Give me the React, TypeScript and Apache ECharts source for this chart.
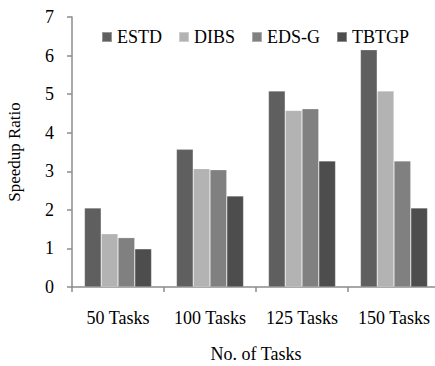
import React, { useEffect, useRef } from "react";
import * as echarts from "echarts";

const categories = ["50 Tasks", "100 Tasks", "125 Tasks", "150 Tasks"];
const seriesNames = ["ESTD", "DIBS", "EDS-G", "TBTGP"];
const estd = [2.05, 3.57, 5.08, 6.15];
const dibs = [1.38, 3.07, 4.58, 5.08];
const edsg = [1.28, 3.04, 4.62, 3.27];
const tbtgp = [0.99, 2.36, 3.27, 2.05];
const colors = ["#5f5f5f", "#b3b3b3", "#808080", "#4d4d4d"];
const yTicks = [0, 7, 1];

export default function App() {
  const ref = useRef<HTMLDivElement>(null);
  useEffect(() => {
    if (!ref.current) return;
    const chart = echarts.init(ref.current, null, { renderer: "svg" });
    const font = "Liberation Serif";
    const data = [estd, dibs, edsg, tbtgp];
    chart.setOption({
      animation: false,
      textStyle: { fontFamily: font },
      legend: {
        top: 23,
        left: 96,
        itemWidth: 10,
        itemHeight: 10,
        itemGap: 16,
        icon: "rect",
        textStyle: { fontFamily: font, fontSize: 18, color: "#000" },
        data: seriesNames,
      },
      grid: { left: 72, right: -5, top: 17, bottom: 79, containLabel: false, outerBoundsMode: "none" },
      xAxis: {
        type: "category",
        data: categories,
        name: "No. of Tasks",
        nameLocation: "middle",
        nameGap: 58,
        nameTextStyle: { fontFamily: font, fontSize: 18, color: "#000" },
        axisLine: { lineStyle: { color: "#8c8c8c", width: 1.5 } },
        axisTick: { show: true, length: 5, lineStyle: { color: "#8c8c8c", width: 1.5 } },
        axisLabel: { fontFamily: font, fontSize: 18, color: "#000", margin: 22, interval: 0 },
      },
      yAxis: {
        type: "value",
        min: yTicks[0],
        max: yTicks[1],
        interval: yTicks[2],
        name: "Speedup Ratio",
        nameLocation: "middle",
        nameGap: 49,
        nameTextStyle: { fontFamily: font, fontSize: 17, color: "#000" },
        axisLine: { show: true, lineStyle: { color: "#8c8c8c", width: 1.5 } },
        axisTick: { show: true, length: 5, lineStyle: { color: "#8c8c8c", width: 1.5 } },
        splitLine: { show: false },
        axisLabel: { fontFamily: font, fontSize: 18, color: "#000", margin: 18 },
      },
      series: seriesNames.map((n, i) => ({
        name: n,
        type: "bar",
        data: data[i],
        barGap: "0%",
        barCategoryGap: "27%",
        itemStyle: { color: colors[i], borderColor: "rgba(255,255,255,0.35)", borderWidth: 0.6 },
      })),
    });
    return () => chart.dispose();
  }, []);
  return (
    <div
      ref={ref}
      style={{ position: "absolute", left: 0, top: 0, width: 435, height: 366, background: "#fff" }}
    />
  );
}
